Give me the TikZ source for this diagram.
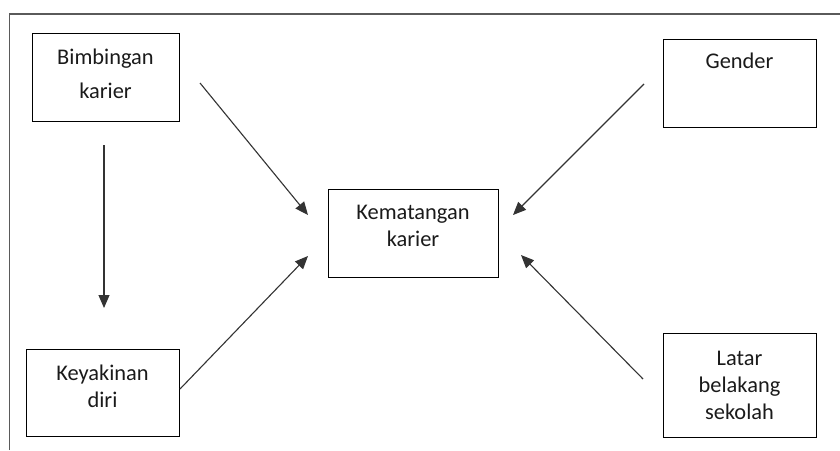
\documentclass[tikz,border=0pt]{standalone}
\usepackage{fontspec}
\setmainfont{Carlito}
\usetikzlibrary{arrows.meta}
\definecolor{framegray}{HTML}{5A5A5A}
\definecolor{arrowgray}{HTML}{333333}
\definecolor{textcol}{HTML}{1A1A1A}
\begin{document}
\begin{tikzpicture}[x=1pt,y=-1pt,
  box/.style={draw=black, line width=1pt, inner sep=0pt, text=textcol,
    font={\fontsize{22.4}{27}\selectfont}, text height=0pt, text depth=0pt},
  conn/.style={draw=arrowgray, line width=1.1pt, -{Triangle[length=13pt,width=11pt]}},
  frameline/.style={draw=framegray, line width=1.3pt}]
\useasboundingbox (0,0) rectangle (840,450);
\draw[frameline] (9.5,450) -- (9.5,14) -- (840,14);

\node[box, minimum width=147pt, minimum height=88pt, text height=8.4pt] (bk) at (105.5,77)
  {\begin{tabular}{@{}c@{}}Bimbingan\\[7pt]karier\end{tabular}};
\node[box, minimum width=153pt, minimum height=88pt, text depth=29.6pt] (gd) at (739.5,83)
  {\begin{tabular}{@{}c@{}}Gender\end{tabular}};
\node[box, minimum width=153pt, minimum height=87pt, text height=2pt] (ky) at (102.5,392.5)
  {\begin{tabular}{@{}c@{}}Keyakinan\\diri\end{tabular}};
\node[box, minimum width=153pt, minimum height=104pt, text height=14pt] (lb) at (739.5,385)
  {\begin{tabular}{@{}c@{}}Latar\\belakang\\sekolah\end{tabular}};
\node[box, minimum width=170pt, minimum height=88pt] (km) at (413,233)
  {\begin{tabular}{@{}c@{}}Kematangan\\karier\end{tabular}};

\coordinate (bkdown) at (104,145);
\coordinate (kydown) at (104,308);
\coordinate (bkout) at (200,83);
\coordinate (kmbk) at (308,215);
\coordinate (kyout) at (180,389);
\coordinate (kmky) at (308,256);
\coordinate (gdout) at (644,84);
\coordinate (kmgd) at (513,215);
\coordinate (lbout) at (643,379);
\coordinate (kmlb) at (521,255);

\draw[conn] (bkdown) -- (kydown);
\draw[conn] (bkout) -- (kmbk);
\draw[conn] (kyout) -- (kmky);
\draw[conn] (gdout) -- (kmgd);
\draw[conn] (lbout) -- (kmlb);
\end{tikzpicture}
\end{document}
